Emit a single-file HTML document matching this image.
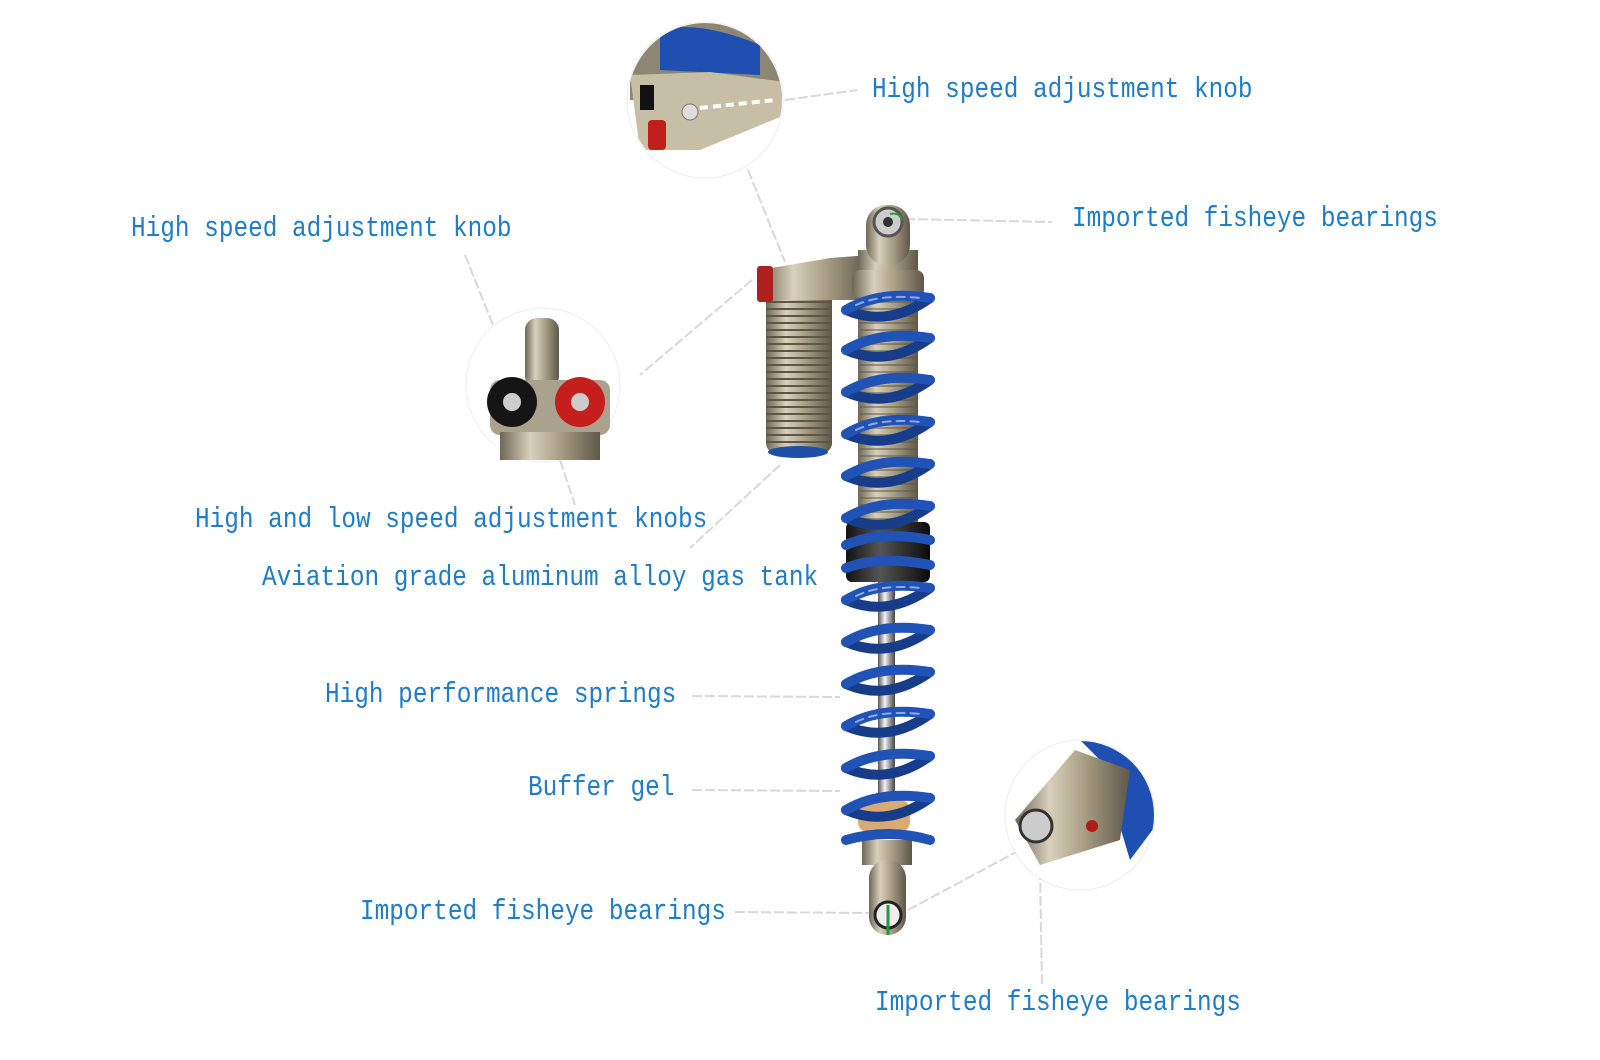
<!DOCTYPE html>
<html><head><meta charset="utf-8"><style>
html,body{margin:0;padding:0;background:#fff;}
body{width:1600px;height:1060px;position:relative;overflow:hidden;}
.l{position:absolute;font-family:"Liberation Mono",monospace;font-size:24.4px;color:#1f7cc6;white-space:nowrap;transform:scaleY(1.18);transform-origin:left center;line-height:30px;}
svg{position:absolute;left:0;top:0;}
</style></head><body>
<svg width="1600" height="1060" viewBox="0 0 1600 1060">
<defs>
<linearGradient id="tan" x1="0" x2="1"><stop offset="0" stop-color="#6e6656"/><stop offset="0.3" stop-color="#d8d0bc"/><stop offset="0.6" stop-color="#a89e86"/><stop offset="1" stop-color="#5e5748"/></linearGradient>
<linearGradient id="sil" x1="0" x2="1"><stop offset="0" stop-color="#555"/><stop offset="0.4" stop-color="#f4f4f4"/><stop offset="0.7" stop-color="#999"/><stop offset="1" stop-color="#444"/></linearGradient>
<linearGradient id="blk" x1="0" x2="1"><stop offset="0" stop-color="#111"/><stop offset="0.4" stop-color="#555"/><stop offset="1" stop-color="#0a0a0a"/></linearGradient>
<pattern id="rib" width="6" height="7" patternUnits="userSpaceOnUse"><line x1="0" y1="1" x2="6" y2="1" stroke="#5d5647" stroke-width="2"/></pattern>
</defs>
<g stroke="#d8d8d8" stroke-width="2" stroke-dasharray="10 3" fill="none">
<line x1="785" y1="100" x2="857" y2="90"/>
<line x1="748" y1="170" x2="785" y2="262"/>
<line x1="905" y1="219" x2="1052" y2="222"/>
<line x1="465" y1="255" x2="495" y2="330"/>
<line x1="752" y1="280" x2="640" y2="375"/>
<line x1="560" y1="460" x2="575" y2="505"/>
<line x1="780" y1="465" x2="690" y2="548"/>
<line x1="692" y1="696" x2="840" y2="697"/>
<line x1="692" y1="790" x2="840" y2="791"/>
<line x1="735" y1="912" x2="875" y2="913"/>
<line x1="908" y1="910" x2="1020" y2="850"/>
<line x1="1040" y1="870" x2="1042" y2="985"/>
</g>
<rect x="766" y="288" width="66" height="165" rx="10" fill="url(#tan)"/>
<rect x="766" y="300" width="66" height="145" fill="url(#rib)"/>
<ellipse cx="798" cy="452" rx="30" ry="6" fill="#1d4fa8"/>
<path d="M760 270 L830 258 L870 255 L870 300 L832 300 L760 300 Z" fill="url(#tan)"/>
<rect x="757" y="266" width="16" height="36" rx="3" fill="#b0201e"/>
<rect x="858" y="250" width="60" height="290" fill="url(#tan)"/>
<rect x="866" y="205" width="44" height="60" rx="20" fill="url(#tan)"/>
<circle cx="888" cy="222" r="14" fill="#ccc" stroke="#555" stroke-width="3"/>
<circle cx="888" cy="222" r="5" fill="#333"/>
<path d="M890 214 Q900 212 902 220" stroke="#2a9a3c" stroke-width="2" fill="none"/>
<rect x="852" y="270" width="72" height="28" rx="8" fill="url(#tan)"/>
<rect x="860" y="300" width="56" height="230" fill="url(#rib)" opacity="0.5"/>
<rect x="878" y="580" width="17" height="240" fill="url(#sil)"/>
<rect x="846" y="522" width="84" height="60" rx="6" fill="url(#blk)"/>
<rect x="858" y="800" width="52" height="32" rx="10" fill="#d8ab72"/>
<rect x="862" y="840" width="50" height="25" fill="url(#tan)"/>
<rect x="869" y="860" width="37" height="75" rx="18" fill="url(#tan)"/>
<circle cx="888" cy="915" r="13" fill="#eee" stroke="#222" stroke-width="3"/>
<line x1="888" y1="905" x2="888" y2="935" stroke="#1e9a3c" stroke-width="3"/>
<g fill="none" stroke-width="10" stroke-linecap="round">
<g stroke="#173d8a">
<path d="M846 310 Q888 328 930 298"/><path d="M846 350 Q888 368 930 338"/>
<path d="M846 392 Q888 410 930 380"/><path d="M846 434 Q888 452 930 422"/>
<path d="M846 476 Q888 494 930 464"/><path d="M846 518 Q888 536 930 506"/>
<path d="M846 600 Q888 618 930 588"/><path d="M846 642 Q888 660 930 630"/>
<path d="M846 684 Q888 702 930 672"/><path d="M846 726 Q888 744 930 714"/>
<path d="M846 768 Q888 786 930 756"/><path d="M846 810 Q888 828 930 798"/>
</g>
<g stroke="#2152b5">
<path d="M846 310 Q880 290 930 298"/><path d="M846 350 Q880 330 930 338"/>
<path d="M846 392 Q880 372 930 380"/><path d="M846 434 Q880 414 930 422"/>
<path d="M846 476 Q880 456 930 464"/><path d="M846 518 Q880 498 930 506"/>
<path d="M846 545 Q880 530 930 540"/><path d="M846 568 Q880 555 930 565"/>
<path d="M846 600 Q880 580 930 588"/><path d="M846 642 Q880 622 930 630"/>
<path d="M846 684 Q880 664 930 672"/><path d="M846 726 Q880 706 930 714"/>
<path d="M846 768 Q880 748 930 756"/><path d="M846 810 Q880 790 930 798"/>
<path d="M846 840 Q888 828 930 840"/>
</g>
<g stroke="#8fa9e0" stroke-width="2" stroke-dasharray="8 6">
<path d="M856 305 Q880 294 920 298"/><path d="M856 430 Q880 418 920 422"/>
<path d="M856 596 Q880 584 920 588"/><path d="M856 722 Q880 710 920 714"/>
</g>
</g>
<circle cx="705" cy="100" r="78" fill="#fff" stroke="#eee"/>
<clipPath id="c1"><circle cx="705" cy="100" r="77"/></clipPath>
<g clip-path="url(#c1)">
<rect x="630" y="20" width="160" height="80" fill="#8e8672"/>
<path d="M660 30 Q700 20 760 45 L760 75 L660 70 Z" fill="#1f4fb0"/>
<path d="M630 75 L710 72 L785 82 L785 115 L700 150 L640 150 Z" fill="#c7bea6"/>
<rect x="640" y="85" width="14" height="25" fill="#111"/>
<rect x="648" y="120" width="18" height="30" rx="4" fill="#c01f1c"/>
<circle cx="690" cy="112" r="8" fill="#ddd" stroke="#777"/>
<line x1="700" y1="108" x2="775" y2="100" stroke="#fff" stroke-width="4" stroke-dasharray="8 5"/>
</g>
<circle cx="543" cy="385" r="77" fill="#fff" stroke="#eee"/>
<rect x="525" y="318" width="34" height="70" rx="12" fill="url(#tan)"/>
<rect x="490" y="380" width="120" height="55" rx="10" fill="#aaa28e"/>
<rect x="500" y="432" width="100" height="28" fill="url(#tan)"/>
<circle cx="512" cy="402" r="25" fill="#151515"/>
<circle cx="512" cy="402" r="9" fill="#ccc"/>
<circle cx="580" cy="402" r="25" fill="#c41f1c"/>
<circle cx="580" cy="402" r="9" fill="#ccc"/>
<circle cx="1080" cy="815" r="75" fill="#fff" stroke="#eee"/>
<clipPath id="c3"><circle cx="1080" cy="815" r="74"/></clipPath>
<g clip-path="url(#c3)">
<path d="M1080 740 Q1150 730 1160 820 L1130 860 L1100 760 Z" fill="#1f4fb0"/>
<path d="M1075 750 L1130 770 L1120 840 L1040 865 L1015 820 Z" fill="url(#tan)"/>
<circle cx="1036" cy="826" r="16" fill="#ccc" stroke="#333" stroke-width="3"/>
<circle cx="1092" cy="826" r="6" fill="#b01c1a"/>
</g>
</svg>
<div class="l" style="left:872px;top:76px">High speed adjustment knob</div>
<div class="l" style="left:1072px;top:205px">Imported fisheye bearings</div>
<div class="l" style="left:131px;top:215px">High speed adjustment knob</div>
<div class="l" style="left:195px;top:506px">High and low speed adjustment knobs</div>
<div class="l" style="left:262px;top:564px">Aviation grade aluminum alloy gas tank</div>
<div class="l" style="left:325px;top:681px">High performance springs</div>
<div class="l" style="left:528px;top:774px">Buffer gel</div>
<div class="l" style="left:360px;top:898px">Imported fisheye bearings</div>
<div class="l" style="left:875px;top:989px">Imported fisheye bearings</div>
</body></html>
